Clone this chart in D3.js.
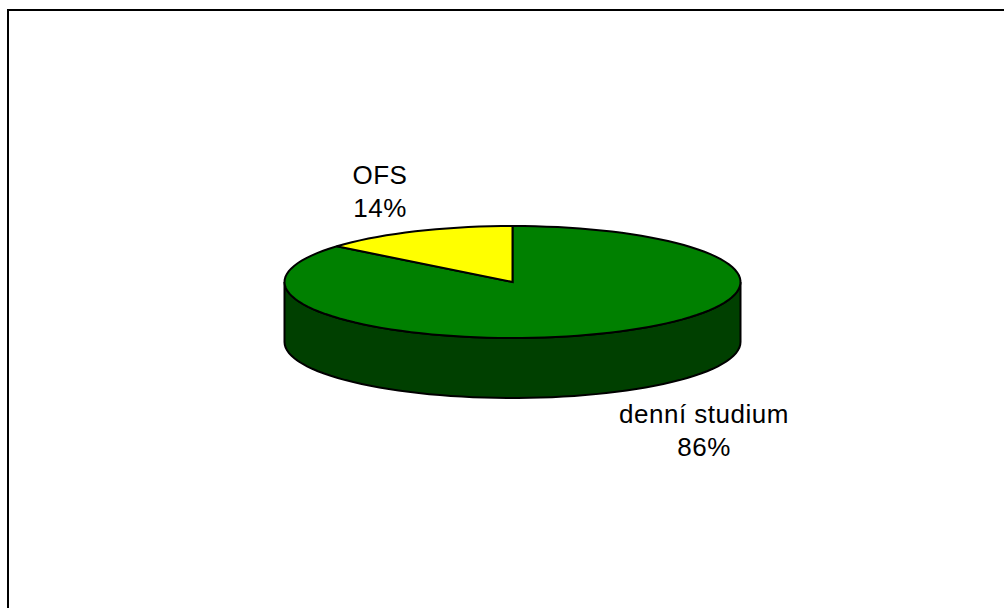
<!DOCTYPE html>
<html><head><meta charset="utf-8">
<script src="https://cdn.jsdelivr.net/npm/d3@7"></script>
<style>html,body{margin:0;padding:0;background:#fff}svg{display:block}</style>
</head><body><svg id="c" width="1004" height="608"></svg>
<script>
const categories = ["denní studium", "OFS"];
const percentLabels = ["86%", "14%"];
const values = [86, 14];
const topColors = ["#008000", "#ffff00"];
const sideColors = ["#004000", "#808000"];

const svg = d3.select("#c");
svg.append("rect").attr("x",8).attr("y",10).attr("width",1100).attr("height",700)
  .attr("fill","#fff").attr("stroke","#000").attr("stroke-width",2);

const cx=512.5, cy=282, rx=228, ry=56, depth=60;
const x=d3.scaleLinear().domain([-1,1]).range([cx-rx,cx+rx]);
const y=d3.scaleLinear().domain([-1,1]).range([cy-ry,cy+ry]);
const pie=d3.pie().sort(null).value(d=>d);
const arcs=pie(values);

function arcPts(a0,a1){
  const n=Math.max(2,Math.round((a1-a0)/0.05));
  return d3.range(n+1).map(i=>{const a=a0+(a1-a0)*i/n;return [Math.sin(a),-Math.cos(a)];});
}
const line=d3.line().x(d=>x(d[0])).y(d=>y(d[1]));

arcs.forEach((d,i)=>{
  const a0=Math.max(d.startAngle,Math.PI/2), a1=Math.min(d.endAngle,Math.PI*3/2);
  if(a1>a0){
    const pts=arcPts(a0,a1);
    const area=d3.area().x(p=>x(p[0])).y0(p=>y(p[1])).y1(p=>y(p[1])+depth);
    svg.append("path").attr("d",area(pts)).attr("fill",sideColors[i]).attr("stroke","#000").attr("stroke-width",2);
  }
});
arcs.forEach((d,i)=>{
  const pts=[[0,0],...arcPts(d.startAngle,d.endAngle)];
  svg.append("path").attr("d",line(pts)+"Z").attr("fill",topColors[i]).attr("stroke","#000").attr("stroke-width",2);
});
const labels=[[704,414,447],[380,175,208]];
categories.forEach((c,i)=>{
  const t=svg.append("text").attr("text-anchor","middle").attr("font-family","Liberation Sans, Arial, sans-serif").attr("font-size",26).attr("letter-spacing",0.5).attr("fill","#000");
  t.append("tspan").attr("x",labels[i][0]).attr("y",labels[i][1]+9).text(c);
  t.append("tspan").attr("x",labels[i][0]).attr("y",labels[i][2]+9).text(percentLabels[i]);
});
</script></body></html>
